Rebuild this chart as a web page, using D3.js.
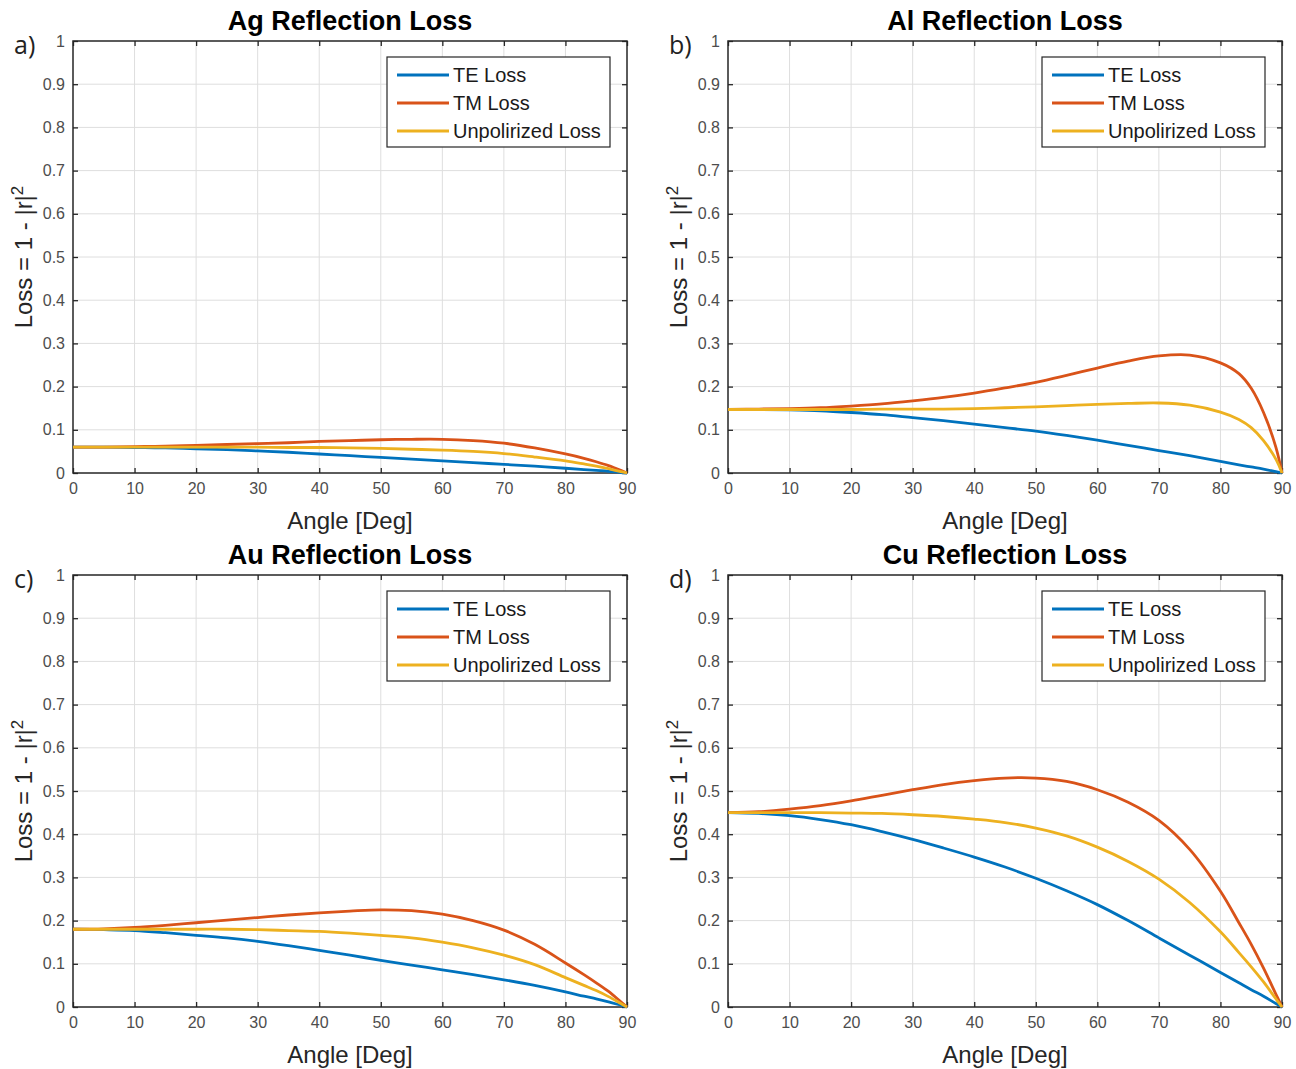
<!DOCTYPE html>
<html>
<head>
<meta charset="utf-8">
<script src="https://cdn.jsdelivr.net/npm/d3@7"></script>
<style>
  body { margin: 0; background: #fff; }
  svg { display: block; }
</style>
</head>
<body>
<script>
// angle samples shared by every curve
var angles = [0,5,10,15,20,25,30,35,40,45,50,55,60,65,70,75,80,83,85,87,89,90];

var agTE = [0.060,0.060,0.059,0.058,0.056,0.054,0.051,0.048,0.044,0.040,0.036,0.032,0.028,0.024,0.020,0.016,0.011,0.008,0.006,0.004,0.001,0];
var agTM = [0.060,0.060,0.061,0.062,0.064,0.066,0.068,0.070,0.073,0.075,0.077,0.078,0.078,0.075,0.069,0.058,0.044,0.034,0.026,0.017,0.006,0];
var agUN = [0.060,0.060,0.060,0.060,0.060,0.060,0.060,0.059,0.059,0.058,0.057,0.055,0.053,0.050,0.045,0.037,0.028,0.021,0.016,0.010,0.003,0];

var alTE = [0.147,0.147,0.146,0.144,0.140,0.135,0.128,0.121,0.113,0.105,0.097,0.087,0.076,0.064,0.052,0.040,0.027,0.019,0.014,0.009,0.003,0];
var alTM = [0.147,0.148,0.149,0.151,0.155,0.160,0.167,0.175,0.185,0.197,0.210,0.226,0.243,0.259,0.271,0.273,0.255,0.230,0.196,0.140,0.060,0];
var alUN = [0.147,0.147,0.147,0.147,0.147,0.148,0.148,0.148,0.149,0.151,0.153,0.156,0.159,0.161,0.162,0.157,0.141,0.124,0.105,0.075,0.032,0];

var auTE = [0.180,0.179,0.177,0.172,0.166,0.160,0.152,0.142,0.131,0.120,0.108,0.097,0.086,0.075,0.063,0.050,0.035,0.025,0.019,0.012,0.004,0];
var auTM = [0.180,0.181,0.184,0.189,0.195,0.201,0.207,0.213,0.218,0.222,0.225,0.223,0.215,0.200,0.178,0.145,0.102,0.075,0.056,0.036,0.012,0];
var auUN = [0.180,0.180,0.180,0.180,0.180,0.180,0.179,0.177,0.175,0.171,0.166,0.160,0.150,0.137,0.120,0.098,0.068,0.050,0.038,0.024,0.008,0];

var cuTE = [0.450,0.448,0.443,0.434,0.422,0.406,0.388,0.368,0.347,0.324,0.298,0.269,0.237,0.200,0.160,0.120,0.080,0.056,0.040,0.025,0.008,0];
var cuTM = [0.450,0.452,0.458,0.466,0.477,0.490,0.503,0.515,0.524,0.530,0.530,0.522,0.503,0.474,0.432,0.365,0.268,0.195,0.145,0.090,0.030,0];
var cuUN = [0.450,0.450,0.450,0.450,0.449,0.448,0.445,0.441,0.435,0.427,0.414,0.396,0.370,0.337,0.296,0.242,0.174,0.126,0.093,0.058,0.019,0];

var seriesNames = ["TE Loss", "TM Loss", "Unpolirized Loss"];
var seriesColors = ["#0072BD", "#D95319", "#EDB120"];

var xTicks = [0,10,20,30,40,50,60,70,80,90];
var yTicks = [0,0.1,0.2,0.3,0.4,0.5,0.6,0.7,0.8,0.9,1];

var panels = [
  {tag: "a)", title: "Ag Reflection Loss", curves: [agTE, agTM, agUN], left: 73, top: 41},
  {tag: "b)", title: "Al Reflection Loss", curves: [alTE, alTM, alUN], left: 728, top: 41},
  {tag: "c)", title: "Au Reflection Loss", curves: [auTE, auTM, auUN], left: 73, top: 575},
  {tag: "d)", title: "Cu Reflection Loss", curves: [cuTE, cuTM, cuUN], left: 728, top: 575}
];

var width = 554;
var height = 432;
var axisColor = "#262626";
var font = "Liberation Sans, Arial, sans-serif";

var svg = d3.select("body").append("svg")
    .attr("width", 1296)
    .attr("height", 1069);

panels.forEach(function(p){
    var x = d3.scaleLinear().domain([0, 90]).range([0, width]);
    var y = d3.scaleLinear().domain([0, 1]).range([height, 0]);

    var g = svg.append("g").attr("transform", "translate(" + p.left + "," + p.top + ")");

    // grid
    g.append("g").selectAll("line").data(xTicks.slice(1, -1)).enter().append("line")
        .attr("x1", d => x(d)).attr("x2", d => x(d))
        .attr("y1", 0).attr("y2", height)
        .attr("stroke", "#dedede").attr("stroke-width", 1);
    g.append("g").selectAll("line").data(yTicks.slice(1, -1)).enter().append("line")
        .attr("y1", d => y(d)).attr("y2", d => y(d))
        .attr("x1", 0).attr("x2", width)
        .attr("stroke", "#dedede").attr("stroke-width", 1);

    // axes, ticks pointing inwards on all four sides
    var bottom = g.append("g").attr("transform", "translate(0," + height + ")")
        .call(d3.axisBottom(x).tickValues(xTicks).tickSize(-5).tickPadding(10).tickFormat(d3.format("d")));
    var top = g.append("g")
        .call(d3.axisTop(x).tickValues(xTicks).tickSize(-5).tickFormat(""));
    var left = g.append("g")
        .call(d3.axisLeft(y).tickValues(yTicks).tickSize(-5).tickPadding(8).tickFormat(d => d === 0 ? "0" : d === 1 ? "1" : d3.format(".1f")(d)));
    var right = g.append("g").attr("transform", "translate(" + width + ",0)")
        .call(d3.axisRight(y).tickValues(yTicks).tickSize(-5).tickFormat(""));

    [bottom, top, left, right].forEach(function(a){
        a.select(".domain").remove();
        a.selectAll("line").attr("stroke", axisColor).attr("stroke-width", 1.3);
        a.selectAll("text").attr("fill", "#4d4d4d").style("font-family", font).style("font-size", "16px");
    });

    g.append("rect")
        .attr("x", 0).attr("y", 0).attr("width", width).attr("height", height)
        .attr("fill", "none").attr("stroke", axisColor).attr("stroke-width", 1.5);

    // curves
    var line = d3.line()
        .x((d, i) => x(angles[i]))
        .y(d => y(d))
        .curve(d3.curveCatmullRom.alpha(0.5));

    p.curves.forEach(function(c, i){
        g.append("path")
            .datum(c)
            .attr("d", line)
            .attr("fill", "none")
            .attr("stroke", seriesColors[i])
            .attr("stroke-width", 2.8)
            .attr("stroke-linejoin", "round");
    });

    // legend
    var lg = g.append("g").attr("transform", "translate(" + (width - 240) + ",16)");
    lg.append("rect")
        .attr("width", 223).attr("height", 90)
        .attr("fill", "#fff").attr("stroke", axisColor).attr("stroke-width", 1.2);
    seriesNames.forEach(function(n, i){
        var yy = 18 + i * 28;
        lg.append("line")
            .attr("x1", 10).attr("x2", 62).attr("y1", yy).attr("y2", yy)
            .attr("stroke", seriesColors[i]).attr("stroke-width", 2.8);
        lg.append("text")
            .attr("x", 66).attr("y", yy).attr("dy", "0.35em")
            .style("font-family", font).style("font-size", "20px")
            .attr("fill", "#1a1a1a")
            .text(n);
    });

    // title
    g.append("text")
        .attr("x", width / 2).attr("y", -11)
        .attr("text-anchor", "middle")
        .style("font-family", font).style("font-size", "27px").style("font-weight", "bold")
        .attr("fill", "#000")
        .text(p.title);

    // x label
    g.append("text")
        .attr("x", width / 2).attr("y", height + 56)
        .attr("text-anchor", "middle")
        .style("font-family", font).style("font-size", "24px")
        .attr("fill", "#262626")
        .text("Angle [Deg]");

    // y label
    var yl = g.append("text")
        .attr("transform", "translate(-41," + (height / 2) + ") rotate(-90)")
        .attr("text-anchor", "middle")
        .style("font-family", font).style("font-size", "24px")
        .attr("fill", "#262626");
    yl.append("tspan").text("Loss = 1 - |r|");
    yl.append("tspan").attr("baseline-shift", "super").style("font-size", "17px").text("2");

    // panel tag
    svg.append("text")
        .attr("x", p.left - 59).attr("y", p.top + 13)
        .style("font-family", "Open Sans, sans-serif").style("font-size", "25px")
        .attr("fill", "#222")
        .text(p.tag);
});
</script>
</body>
</html>
